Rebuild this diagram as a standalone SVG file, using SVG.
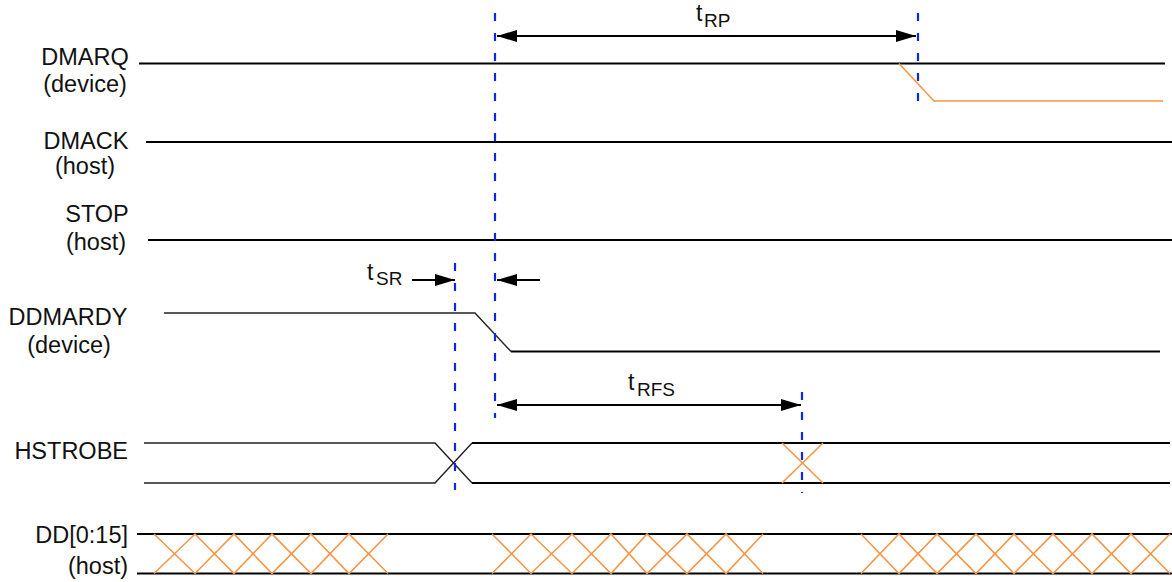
<svg xmlns="http://www.w3.org/2000/svg" width="1172" height="582" viewBox="0 0 1172 582">
<style>
text{font-family:"Liberation Sans",Arial,sans-serif;fill:#111}
.lab{font-size:23.5px}
.t{font-size:23px}
.sub{font-size:19px}
.sig{stroke:#000;stroke-width:2;fill:none}
.thin{stroke:#222;stroke-width:1.4;fill:none}
.or{stroke:#F79646;stroke-width:1.6;fill:none}
.dash{stroke:#0A28E6;stroke-width:2.2;stroke-dasharray:8 12;fill:none}
.arr{stroke:#000;stroke-width:2;fill:none}
</style>
<defs>
<marker id="ah" viewBox="0 0 20 12" refX="20" refY="6" markerWidth="20" markerHeight="12" markerUnits="userSpaceOnUse" orient="auto-start-reverse">
<path d="M0,0 L20,6 L0,12 Z" fill="#000"/>
</marker>
</defs>
<rect width="1172" height="582" fill="#fff"/>
<g id="dmarq">
<text class="lab" x="85" y="65" text-anchor="middle">DMARQ</text>
<text class="lab" x="85" y="92" text-anchor="middle">(device)</text>
<line class="sig" x1="139" y1="63.5" x2="1165" y2="63.5"/>
<polyline class="or" points="899,63.5 934,101 1163,101"/>
</g>
<g id="dmack">
<text class="lab" x="86" y="149" text-anchor="middle">DMACK</text>
<text class="lab" x="85" y="174" text-anchor="middle">(host)</text>
<line class="sig" x1="146" y1="142" x2="1172" y2="142"/>
</g>
<g id="stop">
<text class="lab" x="97" y="222" text-anchor="middle">STOP</text>
<text class="lab" x="96" y="250" text-anchor="middle">(host)</text>
<line class="sig" x1="148" y1="240" x2="1172" y2="240"/>
</g>
<g id="ddmardy">
<text class="lab" x="68" y="325" text-anchor="middle">DDMARDY</text>
<text class="lab" x="69" y="353" text-anchor="middle">(device)</text>
<polyline class="thin" points="164,313 475,313 511,351.5"/>
<line class="sig" x1="511" y1="351.5" x2="1160" y2="351.5"/>
</g>
<g id="hstrobe">
<text class="lab" x="128" y="459" text-anchor="end">HSTROBE</text>
<polyline class="thin" points="144,443 435,443 472,483"/>
<polyline class="thin" points="144,483 435,483 472,443"/>
<line class="sig" x1="472" y1="443" x2="1170" y2="443"/>
<line class="sig" x1="472" y1="483" x2="1170" y2="483"/>
<line class="or" x1="782" y1="443" x2="823" y2="483"/>
<line class="or" x1="782" y1="483" x2="823" y2="443"/>
</g>
<g id="dd">
<text class="lab" x="128" y="543" text-anchor="end">DD[0:15]</text>
<text class="lab" x="128" y="574" text-anchor="end">(host)</text>
<line class="sig" x1="137" y1="534" x2="1172" y2="534"/>
<line class="sig" x1="137" y1="573.5" x2="1172" y2="573.5"/>
<polyline class="or" points="154,534 195,573.5 234,534 272,573.5 311,534 349,573.5 388,534"/>
<polyline class="or" points="154,573.5 195,534 234,573.5 272,534 311,573.5 349,534 388,573.5"/>
<polyline class="or" points="492,534 531,573.5 572,534 611,573.5 647,534 687,573.5 726,534 763,573.5"/>
<polyline class="or" points="492,573.5 531,534 572,573.5 611,534 647,573.5 687,534 726,573.5 763,534"/>
<polyline class="or" points="861,534 899,573.5 937,534 976,573.5 1014,534 1053,573.5 1092,534 1131,573.5 1170,534"/>
<polyline class="or" points="861,573.5 899,534 937,573.5 976,534 1014,573.5 1053,534 1092,573.5 1131,534 1170,573.5"/>
</g>
<g id="connectors">
<line class="dash" x1="495" y1="13" x2="495" y2="418"/>
<line class="dash" x1="918" y1="13" x2="918" y2="105"/>
<line class="dash" x1="455" y1="263" x2="455" y2="490"/>
<line class="dash" x1="802" y1="392" x2="802" y2="493"/>
<line class="arr" x1="497" y1="36" x2="916" y2="36" marker-start="url(#ah)" marker-end="url(#ah)"/>
<line class="arr" x1="412" y1="280" x2="455" y2="280" marker-end="url(#ah)"/>
<line class="arr" x1="540" y1="280" x2="497" y2="280" marker-end="url(#ah)"/>
<line class="arr" x1="497" y1="405" x2="801" y2="405" marker-start="url(#ah)" marker-end="url(#ah)"/>
</g>
<g id="t-rp">
<text class="t" x="696" y="21">t</text>
<text class="sub" x="704" y="27">RP</text>
</g>
<g id="t-sr">
<text class="t" x="367" y="280">t</text>
<text class="sub" x="376" y="285">SR</text>
</g>
<g id="t-rfs">
<text class="t" x="628" y="390">t</text>
<text class="sub" x="637" y="396">RFS</text>
</g>
</svg>
